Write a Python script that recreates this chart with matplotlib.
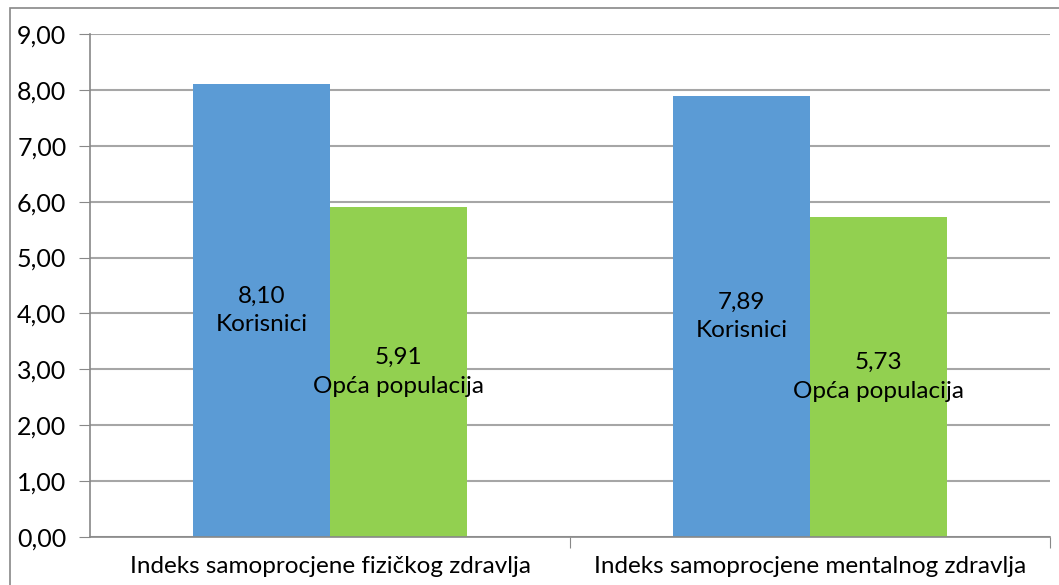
import numpy as np
import matplotlib.pyplot as plt
from matplotlib.patches import Rectangle

categories = ['Indeks samoprocjene fizičkog zdravlja', 'Indeks samoprocjene mentalnog zdravlja']
series_names = ['Korisnici', 'Opća populacija']
korisnici = [8.10, 7.89]
populacija = [5.91, 5.73]
colors = ['#5B9BD5', '#92D050']

plt.rcParams['font.family'] = ['Lato', 'DejaVu Sans']

fig = plt.figure(figsize=(10.59, 5.85), dpi=100)
ax = fig.add_axes([90 / 1059, 1 - 537 / 585, 960 / 1059, 503 / 585])

# outer chart border
fig.patches.append(Rectangle((10 / 1059, -0.1), 1.2, 1 - 8 / 585 + 0.1, transform=fig.transFigure,
                             fill=False, edgecolor='#888888', linewidth=1.2))

x = np.arange(len(categories))
w = 0.285
for vals, name, col, off in [(korisnici, series_names[0], colors[0], -w / 2),
                             (populacija, series_names[1], colors[1], w / 2)]:
    bars = ax.bar(x + off, vals, width=w, color=col, zorder=2)
    for b, v in zip(bars, vals):
        ax.text(b.get_x() + b.get_width() / 2, v / 2, f'{v:.2f}'.replace('.', ',') + '\n' + name,
                ha='center', va='center', fontsize=17.5, linespacing=1.45, zorder=3)

ax.set_xlim(-0.5, 1.5)
ax.set_ylim(0, 9)
ax.set_yticks(np.arange(0, 10, 1))
ax.set_yticklabels([f'{t:.2f}'.replace('.', ',') for t in np.arange(0, 10, 1)], fontsize=18)
ax.yaxis.grid(True, color='#A6A6A6', linewidth=1.5, zorder=0)
ax.set_axisbelow(True)

ax.set_xticks([0.5, 1.5], minor=False)
ax.set_xticklabels([])
ax.set_xticks(x, minor=True)
ax.set_xticklabels(categories, minor=True, fontsize=17.5)
ax.tick_params(axis='x', which='minor', length=0, pad=14)
ax.tick_params(axis='x', which='major', length=8, color='#888888')
ax.tick_params(axis='y', length=8, color='#888888', pad=9)

for s in ['top', 'right']:
    ax.spines[s].set_visible(False)
for s in ['left', 'bottom']:
    ax.spines[s].set_color('#888888')
    ax.spines[s].set_linewidth(1.2)

fig.savefig('out.png', dpi=100)
